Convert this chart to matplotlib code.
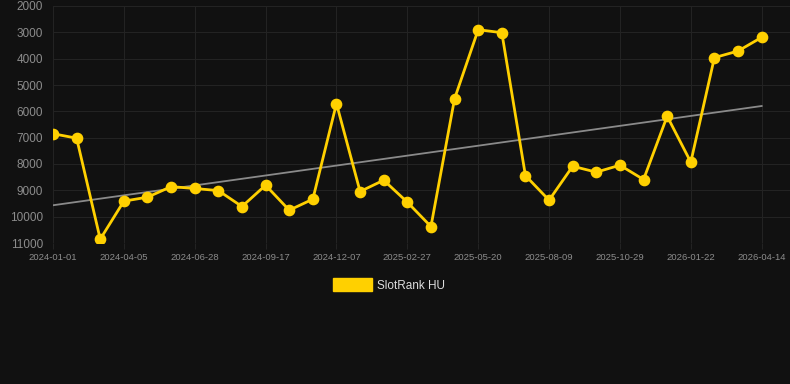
import numpy as np
import matplotlib
matplotlib.use("Agg")
import matplotlib.pyplot as plt
from matplotlib.patches import Patch

# SlotRank HU ranking, one point per period (lower rank number = better)
ranks = [6850, 7020, 10855, 9410, 9260, 8860, 8930, 9010, 9615, 8805,
         9755, 9335, 5705, 9045, 8615, 9450, 10375, 5520, 2900, 3013,
         8440, 9375, 8085, 8310, 8045, 8590, 6185, 7930, 3960, 3710, 3190]
tick_labels = ["2024-01-01", "2024-04-05", "2024-06-28", "2024-09-17",
               "2024-12-07", "2025-02-27", "2025-05-20", "2025-08-09",
               "2025-10-29", "2026-01-22", "2026-04-14"]
y_ticks = [2000, 3000, 4000, 5000, 6000, 7000, 8000, 9000, 10000, 11000]

bg = "#111111"
yellow = "#FFD000"

plt.rcParams["font.family"] = ["Liberation Sans", "DejaVu Sans"]

fig = plt.figure(figsize=(7.9, 3.84), dpi=100, facecolor=bg)
ax = fig.add_axes([53 / 790, 1 - 243 / 384, 737 / 790, 237 / 384])
ax.set_facecolor(bg)

x = np.arange(len(ranks))

# linear trend
k, b = np.polyfit(x, ranks, 1)
ax.plot(x, k * x + b, color="#8a8a8a", lw=1.3, zorder=2)

ax.plot(x, ranks, color=yellow, lw=2.0, marker="o", ms=7.4, zorder=3)

ax.set_ylim(11000, 2000)
ax.set_xlim(0, 31.2)
ax.set_yticks(y_ticks)
ax.set_yticklabels([str(v) for v in y_ticks], fontsize=8.5, color="#8c8c8c")
ax.set_xticks(x[::3])
ax.set_xticklabels(tick_labels, fontsize=6.8, color="#8c8c8c")

ax.grid(True, color="#232323", lw=0.8)
ax.tick_params(axis="y", length=0, pad=7)
ax.tick_params(axis="x", length=4, color="#232323", pad=3)
for s in ax.spines.values():
    s.set_visible(False)

handle = Patch(facecolor=yellow, edgecolor=yellow)
fig.legend([handle], ["SlotRank HU"], loc="center", bbox_to_anchor=(389 / 790, 1 - 285 / 384),
           frameon=False, fontsize=8.5, labelcolor="#dddddd",
           handlelength=3.3, handleheight=1.2, handletextpad=0.45)

fig.savefig("out.png", dpi=100, facecolor=bg)
